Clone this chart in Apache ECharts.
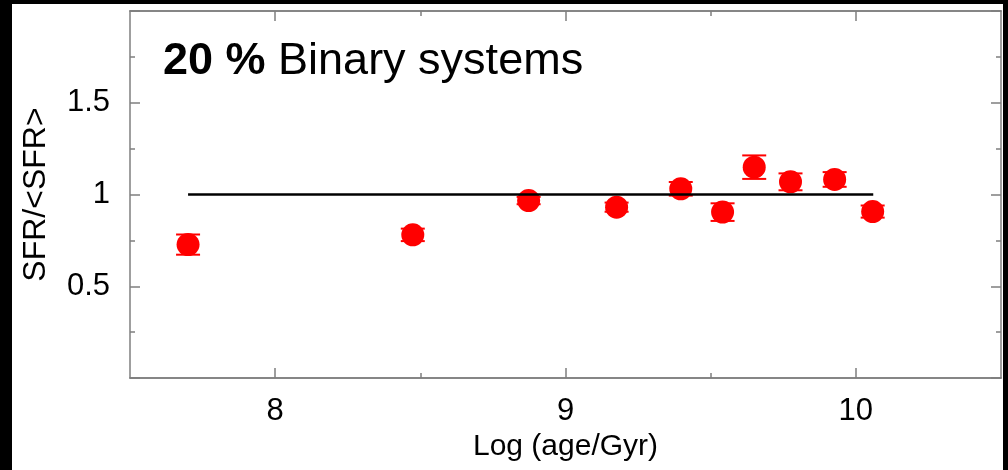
<!DOCTYPE html>
<html>
<head>
<meta charset="utf-8">
<script src="https://cdn.jsdelivr.net/npm/echarts@6/dist/echarts.min.js"></script>
<style>
html,body{margin:0;padding:0;background:#000;}
#chart{width:1008px;height:470px;}
</style>
</head>
<body>
<div id="chart"></div>
<script>
// ---- data ----
const logAge   = [7.70, 8.474, 8.873, 9.176, 9.397, 9.541, 9.65, 9.775, 9.927, 10.058];
const sfrRatio = [0.727, 0.780, 0.967, 0.931, 1.031, 0.904, 1.149, 1.069, 1.082, 0.907];
const sfrErr   = [0.055, 0.034, 0.020, 0.025, 0.037, 0.048, 0.064, 0.046, 0.040, 0.033];
const refLineX = [7.70, 10.06];
const refLineY = [1, 1];
const xMajorTicks = [8, 9, 10];
const xMinorTicks = [8.5, 9.5];
const titleBold = '20 %';
const titleRest = ' Binary systems';
const xName = 'Log (age/Gyr)';
const yName = 'SFR/<SFR>';

const FONT = '"Liberation Sans", Arial, sans-serif';
const AXIS_COLOR = '#7f7f7f';

const scatterData = logAge.map((x, i) => [x, sfrRatio[i]]);
const errData = logAge.map((x, i) => [x, sfrRatio[i], sfrErr[i]]);
const lineData = refLineX.map((x, i) => [x, refLineY[i]]);

const axisLine = { show: true, lineStyle: { color: AXIS_COLOR, width: 1.5 } };
const tickStyle = { color: AXIS_COLOR, width: 1.5 };

function xAx(pos, ticks, len, withLabel) {
  const a = {
    type: 'value', min: 7.5, max: 10.5, position: pos,
    axisLine: axisLine, splitLine: { show: false },
    axisTick: { show: true, inside: true, length: len, customValues: ticks, lineStyle: tickStyle },
    axisLabel: withLabel
      ? { customValues: ticks, fontSize: 31, color: '#000', margin: 18, fontFamily: FONT }
      : { show: false }
  };
  if (withLabel) {
    a.name = xName;
    a.nameLocation = 'middle';
    a.nameGap = 54;
    a.nameTextStyle = { fontSize: 30, color: '#000', fontFamily: FONT };
  }
  return a;
}
function yAx(pos, withLabel) {
  const a = {
    type: 'value', min: 0, max: 2, interval: 0.5, position: pos,
    axisLine: axisLine, splitLine: { show: false },
    axisTick: { show: true, inside: true, length: 10, lineStyle: tickStyle },
    minorTick: { show: true, splitNumber: 2, length: 5, lineStyle: tickStyle },
    minorSplitLine: { show: false },
    axisLabel: withLabel
      ? { fontSize: 31, color: '#000', margin: 20, fontFamily: FONT,
          formatter: v => (v === 0 || v === 2) ? '' : String(v) }
      : { show: false }
  };
  if (withLabel) {
    a.name = yName;
    a.nameLocation = 'middle';
    a.nameGap = 78;
    a.nameRotate = 90;
    a.nameTextStyle = { fontSize: 32, color: '#000', fontFamily: FONT };
  }
  return a;
}

const chart = echarts.init(document.getElementById('chart'), null, { renderer: 'canvas' });
chart.setOption({
  backgroundColor: '#000',
  animation: false,
  graphic: {
    elements: [{
      type: 'rect', z: -100, silent: true,
      shape: { x: 12, y: 4, width: 991, height: 470 },
      style: { fill: '#fff', shadowBlur: 4, shadowColor: 'rgba(0,0,0,0.6)' }
    }]
  },
  title: {
    left: 158, top: 34,
    text: '{b|' + titleBold + '}{r|' + titleRest + '}',
    textStyle: {
      rich: {
        b: { fontSize: 45, fontWeight: 'bold', color: '#000', fontFamily: FONT },
        r: { fontSize: 45, fontWeight: 'normal', color: '#000', fontFamily: FONT }
      }
    }
  },
  grid: { left: 130, right: 7, top: 11, bottom: 92, containLabel: false, outerBoundsMode: 'none' },
  xAxis: [
    xAx('bottom', xMajorTicks, 10, true),
    xAx('bottom', xMinorTicks, 5, false),
    xAx('top', xMajorTicks, 10, false),
    xAx('top', xMinorTicks, 5, false)
  ],
  yAxis: [
    yAx('left', true),
    yAx('right', false)
  ],
  series: [
    {
      type: 'custom', xAxisIndex: 0, yAxisIndex: 0, z: 3,
      data: errData,
      renderItem: function (params, api) {
        const x = api.value(0), y = api.value(1), e = api.value(2);
        const t = api.coord([x, y + e]);
        const b = api.coord([x, y - e]);
        const hw = 12;
        const st = { stroke: '#ff0000', lineWidth: 2 };
        return {
          type: 'group', children: [
            { type: 'line', shape: { x1: t[0], y1: t[1], x2: b[0], y2: b[1] }, style: st },
            { type: 'line', shape: { x1: t[0] - hw, y1: t[1], x2: t[0] + hw, y2: t[1] }, style: st },
            { type: 'line', shape: { x1: b[0] - hw, y1: b[1], x2: b[0] + hw, y2: b[1] }, style: st }
          ]
        };
      }
    },
    {
      type: 'scatter', xAxisIndex: 0, yAxisIndex: 0, z: 4,
      data: scatterData, symbol: 'circle', symbolSize: 23,
      itemStyle: { color: '#ff0000', opacity: 1 }
    },
    {
      type: 'line', xAxisIndex: 0, yAxisIndex: 0, z: 5,
      data: lineData, symbol: 'none',
      lineStyle: { color: '#000', width: 2.5 }
    }
  ]
});
</script>
</body>
</html>
